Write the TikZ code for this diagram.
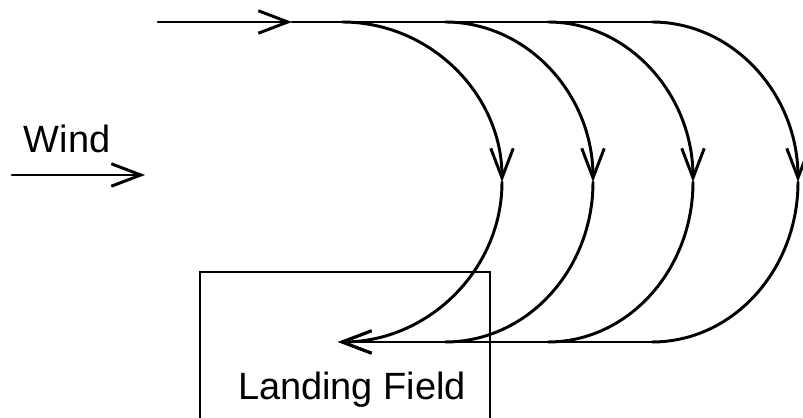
\documentclass[tikz,border=0pt]{standalone}
\usepackage{fontspec}
\setmainfont{Liberation Sans}
\usetikzlibrary{arrows.meta}

\begin{document}
\begin{tikzpicture}[
    x=0.025cm, y=0.025cm,
    path/.style={line width=2.1pt, line cap=round},
    arr/.style={path, -{Straight Barb[length=21pt, width=16pt, line width=2.1pt]}},
    lbl/.style={anchor=base, inner sep=0pt, font=\fontsize{27}{32}\selectfont}
  ]
    \useasboundingbox (0,0) rectangle (803,418);

    % approach and turning points
    \coordinate (start) at (158,396);
    \coordinate (mark)  at (292,396);
    \coordinate (t1) at (342,396);
    \coordinate (t2) at (445,396);
    \coordinate (t3) at (548,396);
    \coordinate (t4) at (652,396);
    \coordinate (r1) at (502,236);
    \coordinate (r2) at (593,236);
    \coordinate (r3) at (693,236);
    \coordinate (r4) at (798,236);
    \coordinate (b2) at (445,76);
    \coordinate (b3) at (548,76);
    \coordinate (b4) at (652,76);
    \coordinate (land) at (338,76);

    % wind
    \node[lbl] (wind) at (67,265) {Wind};
    \coordinate (w0) at (12,243);
    \coordinate (w1) at (145,243);
    \draw[arr] (w0) -- (w1);

    % landing field
    \node[lbl] (field) at (352,18) {Landing Field};
    \draw[path, line cap=butt] (200,-10) -- (200,146) -- (490,146) -- (490,-10);

    % flight path
    \draw[arr] (start) -- (mark);
    \draw[path] (mark) -- (t4);
    \draw[arr] (b4) -- (land);

    \draw[arr] (t1) .. controls (430,396) and (502,324) .. (r1);
    \draw[arr] (r1) .. controls (502,148) and (428,76) .. (land);
    \draw[arr] (t2) .. controls (527,396) and (593,324) .. (r2);
    \draw[path] (r2) .. controls (593,148) and (527,76) .. (b2);
    \draw[arr] (t3) .. controls (628,396) and (693,324) .. (r3);
    \draw[path] (r3) .. controls (693,148) and (628,76) .. (b3);
    \draw[arr] (t4) .. controls (733,396) and (798,324) .. (r4);
    \draw[path] (r4) .. controls (798,148) and (733,76) .. (b4);
  \end{tikzpicture}
\end{document}
